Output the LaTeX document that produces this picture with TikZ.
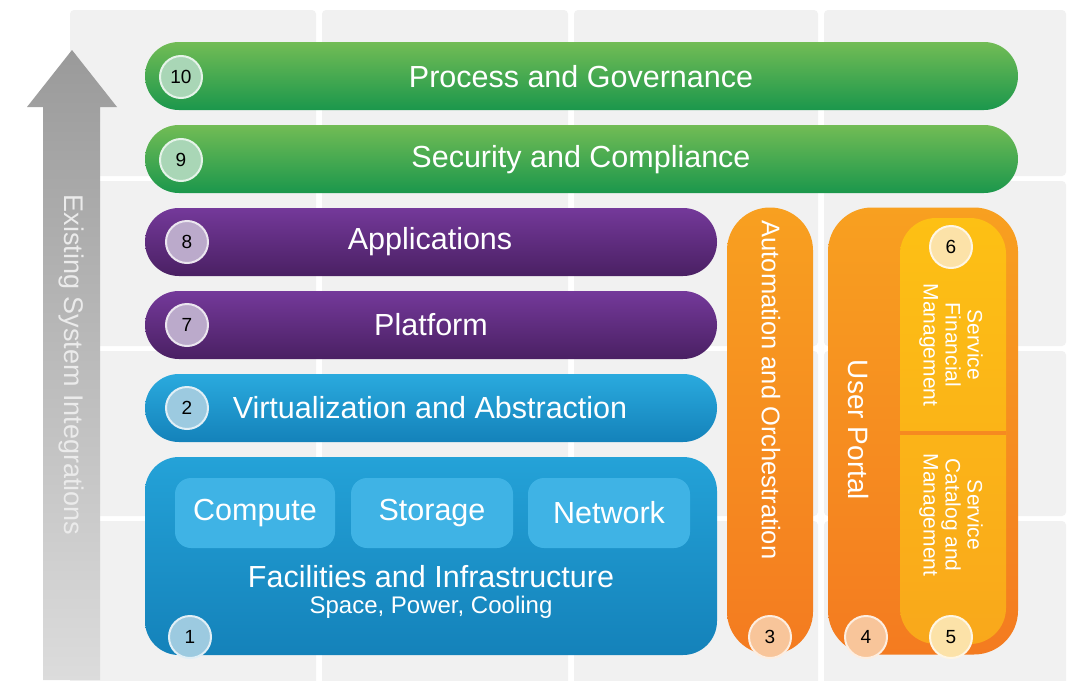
\documentclass[tikz,border=0pt]{standalone}
\usepackage{fontspec}
\setmainfont{Liberation Sans}
\definecolor{tile}{HTML}{F1F1F1}
\definecolor{gtop}{HTML}{72BC55}
\definecolor{gbot}{HTML}{1B974C}
\definecolor{gnum}{HTML}{A9D6B6}
\definecolor{ptop}{HTML}{74399A}
\definecolor{pbot}{HTML}{4A2063}
\definecolor{pnum}{HTML}{BBAACB}
\definecolor{btop}{HTML}{2AAADE}
\definecolor{bbot}{HTML}{1482BA}
\definecolor{bmid}{HTML}{1B96CE}
\definecolor{binner}{HTML}{3FB3E5}
\definecolor{bnum}{HTML}{9CCAE0}
\definecolor{otop}{HTML}{F8A020}
\definecolor{obot}{HTML}{F47B20}
\definecolor{onum}{HTML}{F8C59A}
\definecolor{ytop}{HTML}{FDC014}
\definecolor{ybot}{HTML}{F9A81B}
\definecolor{ynum}{HTML}{FCE2A8}
\definecolor{atop}{HTML}{9A9A9A}
\definecolor{abot}{HTML}{DCDCDC}
\tikzset{
  tilebox/.style={fill=tile, rounded corners=4pt},
  bar/.style={rounded corners=33.9pt, minimum height=68pt, inner sep=0pt, draw=none},
  lbl/.style={text=white, inner sep=0pt, font=\fontsize{30.5}{33}\selectfont},
  num/.style={circle, minimum size=42pt, inner sep=0pt, line width=2pt, text=black, font=\fontsize{19}{20}\selectfont},
  vlbl/.style={text=white, inner sep=0pt, rotate=-90, align=center},
}
\begin{document}
\begin{tikzpicture}[x=1pt,y=-1pt]
\useasboundingbox (0,0) rectangle (1073,680);
\fill[white] (0,0) rectangle (1073,680);
% background tiles
\foreach \xa/\xb in {70/316,322/568,574/818,824/1066}{
  \foreach \ya/\yb in {10/176,181/346,351/516,521/690}{
    \fill[tilebox] (\xa,\ya) rectangle (\xb,\yb);
  }
}
% arrow
\shade[top color=atop, bottom color=abot] (43,680) -- (43,107) -- (27,107) -- (72,50) -- (117,107) -- (100,107) -- (100,680) -- cycle;
\node[vlbl, text=white!92!black, font=\fontsize{27}{29}\selectfont] (esi) at (71,365) {Existing System Integrations};
% green bars
\node[bar, top color=gtop, bottom color=gbot, minimum width=873pt] (b10) at (581.5,76) {};
\node[bar, top color=gtop, bottom color=gbot, minimum width=873pt] (b9) at (581.5,159) {};
\node[lbl] (t10) at (581,77) {Process and Governance};
\node[lbl] (t9) at (581,160) {Security and Compliance};
\node[num, fill=gnum, draw=white!70!gnum] (n10) at (181,77) {10};
\node[num, fill=gnum, draw=white!70!gnum] (n9) at (181,160) {9};
% purple bars
\node[bar, top color=ptop, bottom color=pbot, minimum width=572pt] (b8) at (431,242) {};
\node[bar, top color=ptop, bottom color=pbot, minimum width=572pt] (b7) at (431,325) {};
\node[lbl] (t8) at (430,242) {Applications};
\node[lbl] (t7) at (431,325) {Platform};
\node[num, fill=pnum, draw=white!70!pnum] (n8) at (187,242) {8};
\node[num, fill=pnum, draw=white!70!pnum] (n7) at (187,325) {7};
% blue bars
\node[bar, top color=btop, bottom color=bbot, minimum width=572pt] (b2) at (431,408) {};
\node[lbl] (t2) at (430,408) {Virtualization and Abstraction};
\node[num, fill=bnum, draw=white!70!bnum] (n2) at (187,408) {2};
\node[bar, rounded corners=34pt, top color=btop!60!bmid, bottom color=bbot, minimum width=572pt, minimum height=198pt] (b1) at (431,556) {};
\node[fill=binner, rounded corners=16pt, minimum width=160pt, minimum height=70pt] (comp) at (255,513) {};
\node[fill=binner, rounded corners=16pt, minimum width=162pt, minimum height=70pt] (stor) at (432,513) {};
\node[fill=binner, rounded corners=16pt, minimum width=162pt, minimum height=70pt] (netw) at (609,513) {};
\node[lbl] at (comp) {Compute};
\node[lbl] at (stor) {Storage};
\node[lbl] at (netw) {Network};
\node[lbl] (t1) at (431,577) {Facilities and Infrastructure};
\node[lbl, font=\fontsize{24}{26}\selectfont] (t1b) at (431,607) {Space, Power, Cooling};
\node[num, fill=bnum, draw=white!70!bnum] (n1) at (190,637) {1};
% automation
\node[bar, rounded corners=42.9pt, top color=otop, bottom color=obot, minimum width=86pt, minimum height=447pt] (b3) at (770,431) {};
\node[vlbl, font=\fontsize{25.5}{27}\selectfont] (t3) at (771,390) {Automation and Orchestration};
\node[num, fill=onum, draw=white!70!onum] (n3) at (770,637) {3};
% user portal
\node[bar, rounded corners=44pt, top color=otop, bottom color=obot, minimum width=190pt, minimum height=447pt] (b4) at (923,431) {};
\node[vlbl, font=\fontsize{28}{30}\selectfont] (t4) at (858,430) {User Portal};
\node[num, fill=onum, draw=white!70!onum] (n4) at (866,637) {4};
\node[bar, rounded corners=36pt, top color=ytop, bottom color=ybot, minimum width=106pt, minimum height=426pt] (yel) at (953,431) {};
\draw[obot!60!otop, line width=4pt] (yel.west |- 0,433) -- (yel.east |- 0,433);
\node[vlbl, font=\fontsize{21}{22}\selectfont] (t6) at (951,345) {Service\\Financial\\Management};
\node[vlbl, font=\fontsize{21}{22}\selectfont] (t5) at (951,515) {Service\\Catalog and\\Management};
\node[num, fill=ynum, draw=white!70!ynum] (n6) at (951,247) {6};
\node[num, fill=ynum, draw=white!70!ynum] (n5) at (951,637) {5};
\end{tikzpicture}
\end{document}
